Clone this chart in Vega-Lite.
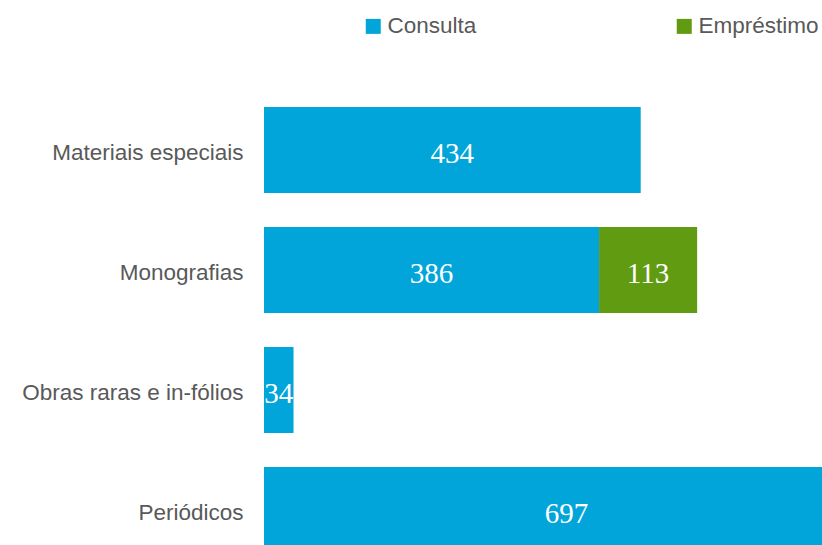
{
  "$schema": "https://vega.github.io/schema/vega-lite/v6.json",
  "autosize": {"type": "none"},
  "padding": {"left": 264, "top": 90, "right": 0, "bottom": 0},
  "width": 605,
  "height": 480,
  "background": "white",
  "config": {"view": {"stroke": null}},
  "data": {
    "values": [
      {"categoria": "Materiais especiais", "tipo": "Consulta", "valor": 434},
      {"categoria": "Monografias", "tipo": "Consulta", "valor": 386},
      {"categoria": "Monografias", "tipo": "Empréstimo", "valor": 113},
      {"categoria": "Obras raras e in-fólios", "tipo": "Consulta", "valor": 34},
      {"categoria": "Periódicos", "tipo": "Consulta", "valor": 697}
    ]
  },
  "transform": [
    {"calculate": "indexof(['Consulta','Empréstimo'], datum.tipo)", "as": "ordem"},
    {"stack": "valor", "groupby": ["categoria"], "sort": [{"field": "ordem", "order": "ascending"}], "as": ["v0", "v1"]},
    {"calculate": "(datum.v0 + datum.v1) / 2", "as": "meio"}
  ],
  "encoding": {
    "y": {
      "field": "categoria",
      "type": "nominal",
      "sort": null,
      "scale": {"paddingInner": 0.283, "paddingOuter": 0.1417},
      "axis": {
        "title": null,
        "domain": false,
        "ticks": false,
        "labelFont": "Liberation Sans",
        "labelFontSize": 22.5,
        "labelColor": "#595959",
        "labelPadding": 21,
        "labelOffset": 3,
        "labelLimit": 400
      }
    }
  },
  "layer": [
    {
      "mark": {"type": "bar"},
      "encoding": {
        "x": {"field": "v0", "type": "quantitative", "scale": {"domain": [0, 697], "nice": false}, "axis": null},
        "x2": {"field": "v1"},
        "color": {
          "field": "tipo",
          "type": "nominal",
          "scale": {"domain": ["Consulta", "Empréstimo"], "range": ["#02A5DA", "#619B12"]},
          "legend": {
            "title": null,
            "orient": "none",
            "direction": "horizontal",
            "legendX": 98,
            "legendY": -75,
            "padding": 0,
            "symbolType": "square",
            "symbolSize": 225,
            "symbolStrokeWidth": 0,
            "symbolOpacity": 1,
            "labelFont": "Liberation Sans",
            "labelFontSize": 22.5,
            "labelColor": "#595959",
            "labelOffset": 3,
            "columnPadding": 196,
            "labelLimit": 300
          }
        }
      }
    },
    {
      "mark": {"type": "text", "font": "Liberation Serif", "fontSize": 29, "color": "white", "baseline": "middle", "align": "center", "dy": 4},
      "encoding": {
        "x": {"field": "meio", "type": "quantitative"},
        "text": {"field": "valor", "type": "quantitative"}
      }
    }
  ]
}
